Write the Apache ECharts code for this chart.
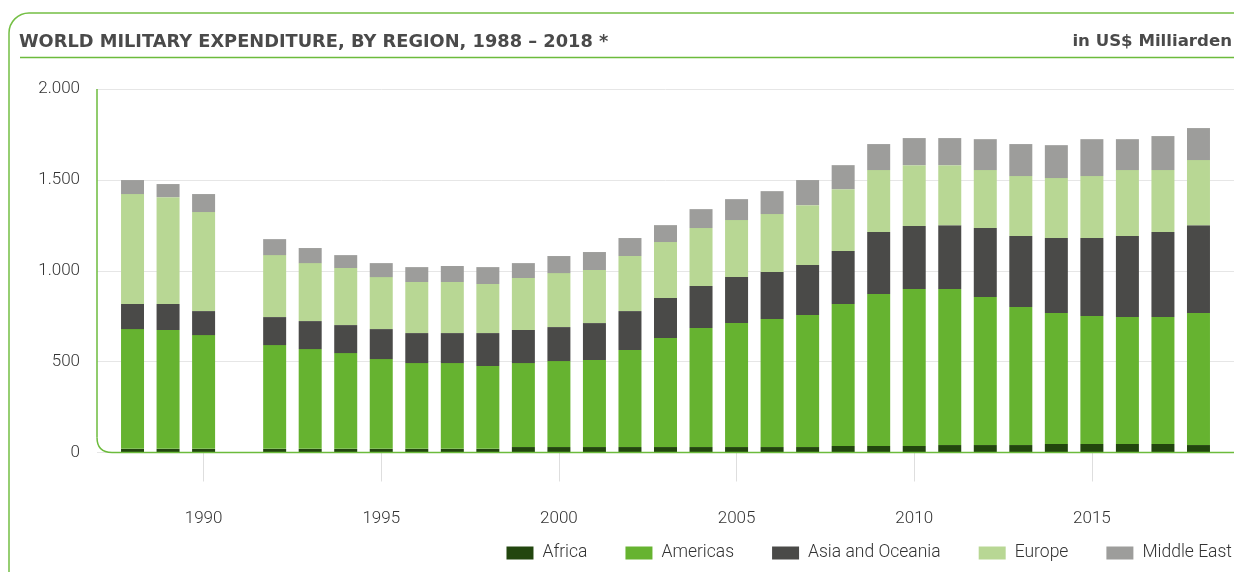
<!DOCTYPE html>
<html>
<head>
<meta charset="utf-8">
<script src="https://cdn.jsdelivr.net/npm/echarts@6/dist/echarts.min.js"></script>
<style>
html,body{margin:0;padding:0;background:#fff;}
#chart{width:1234px;height:572px;}
</style>
</head>
<body>
<div id="chart"></div>
<script>
// ---- data (US$ Milliarden) ----
// axis categories: 1987 and 2019 are empty edge slots, 1991 has no data
const categories = ['1987','1988','1989','1990','1991','1992','1993','1994','1995','1996','1997','1998','1999','2000','2001','2002','2003','2004','2005','2006','2007','2008','2009','2010','2011','2012','2013','2014','2015','2016','2017','2018','2019'];
const years    = [1988,1989,1990,1992,1993,1994,1995,1996,1997,1998,1999,2000,2001,2002,2003,2004,2005,2006,2007,2008,2009,2010,2011,2012,2013,2014,2015,2016,2017,2018];
const africa   = [20,20,20,20,20,20,20,20,20,20,30,30,30,30,30,30,30,30,30,36,36,36,41,41,41,47,47,47,47,41];
const americas = [659,654,626,571,549,527,494,472,472,456,462,473,479,534,600,655,682,704,726,781,836,863,858,814,759,720,704,698,698,726];
const asia     = [138,143,132,154,154,154,165,165,165,181,182,187,203,214,220,231,253,259,275,291,341,347,352,380,391,413,429,446,468,484];
const europe   = [605,588,545,341,319,314,286,281,281,270,286,297,292,303,308,319,314,319,330,341,341,335,330,319,330,330,341,363,341,358];
const mideast  = [77,72,99,88,83,71,77,82,88,93,82,94,99,99,93,104,115,126,138,132,143,149,149,170,176,181,203,170,187,176];
const seriesNames = ['Africa','Americas','Asia and Oceania','Europe','Middle East'];
const xLabelStep = 5;

const colors = ['#22460e','#66b330','#4a4a48','#b8d794','#9d9d9b'];
const FONT = 'Roboto, "Noto Sans", sans-serif';
const TFONT = '"DejaVu Sans", sans-serif';

const chart = echarts.init(document.getElementById('chart'), null, {renderer:'canvas'});
const allSeries = [africa, americas, asia, europe, mideast];

function toCategoryData(values) {
  return categories.map(c => {
    const k = years.indexOf(Number(c));
    return k >= 0 ? values[k] : '-';
  });
}
const showYear = (idx, val) => Number(val) % xLabelStep === 0;

const option = {
  animation: false,
  color: colors,
  title: [
    {text: 'WORLD MILITARY EXPENDITURE, BY REGION, 1988 – 2018 *', left: 19, top: 33, padding: 0,
     textStyle: {fontFamily: TFONT, fontSize: 17.8, fontWeight: 'bold', color: '#4a4a4a'}},
    {text: 'in US$ Milliarden', right: 2, top: 33, padding: 0,
     textStyle: {fontFamily: TFONT, fontSize: 16.6, fontWeight: 'bold', color: '#4a4a4a'}}
  ],
  legend: {
    right: 2, top: 544, padding: 0, itemWidth: 27, itemHeight: 13, itemGap: 38,
    icon: 'rect',
    data: seriesNames,
    textStyle: {fontFamily: FONT, fontSize: 17.5, fontWeight: 300, color: '#333', padding: [0,0,0,4]}
  },
  grid: {left: 97, right: -4.3, top: 89, bottom: 119.5, containLabel: false},
  xAxis: {
    type: 'category', data: categories, boundaryGap: false,
    axisLine: {show: false},
    splitLine: {show: false},
    axisTick: {show: true, interval: showYear, length: 29, lineStyle: {color: '#dedede', width: 1}},
    axisLabel: {interval: showYear, margin: 58, fontFamily: FONT, fontSize: 17, fontWeight: 300, color: '#333'}
  },
  yAxis: {
    type: 'value', min: 0, max: 2000, interval: 500,
    axisLine: {show: false}, axisTick: {show: false},
    splitLine: {lineStyle: {color: '#e6e6e6', width: 1}},
    axisLabel: {margin: 17, fontFamily: FONT, fontSize: 17, fontWeight: 300, color: '#333',
                formatter: v => v >= 1000 ? Math.floor(v/1000) + '.' + String(v%1000).padStart(3,'0') : String(v)}
  },
  series: seriesNames.map((name, i) => ({
    name: name, type: 'bar', stack: 'total', barWidth: 23,
    itemStyle: {color: colors[i]},
    data: toCategoryData(allSeries[i])
  }))
};
chart.setOption(option);

// frame decorations: outer box, title rule and rounded axis corner
const pBase = chart.convertToPixel({xAxisIndex:0, yAxisIndex:0}, [0, 0]);
const pTop  = chart.convertToPixel({xAxisIndex:0, yAxisIndex:0}, [0, 2000]);
const r = 15;
const x0 = pBase[0], y0 = pBase[1];
const stroke = {fill: 'none', stroke: '#6cbb3c', lineWidth: 1.5};
chart.setOption({
  graphic: [
    {type: 'rect', silent: true, z: 100,
     shape: {x: 9, y: 13, width: 1300, height: 700, r: 20},
     style: {fill: 'none', stroke: '#74bf44', lineWidth: 1.5}},
    {type: 'line', silent: true, z: 100,
     shape: {x1: 20, y1: 57.5, x2: 1234, y2: 57.5},
     style: stroke},
    {type: 'line', silent: true, z: 100,
     shape: {x1: x0, y1: pTop[1], x2: x0, y2: y0 - r}, style: stroke},
    {type: 'bezierCurve', silent: true, z: 100,
     shape: {x1: x0, y1: y0 - r, cpx1: x0, cpy1: y0, x2: x0 + r, y2: y0}, style: stroke},
    {type: 'line', silent: true, z: 100,
     shape: {x1: x0 + r, y1: y0, x2: 1240, y2: y0}, style: stroke}
  ]
});
</script>
</body>
</html>
